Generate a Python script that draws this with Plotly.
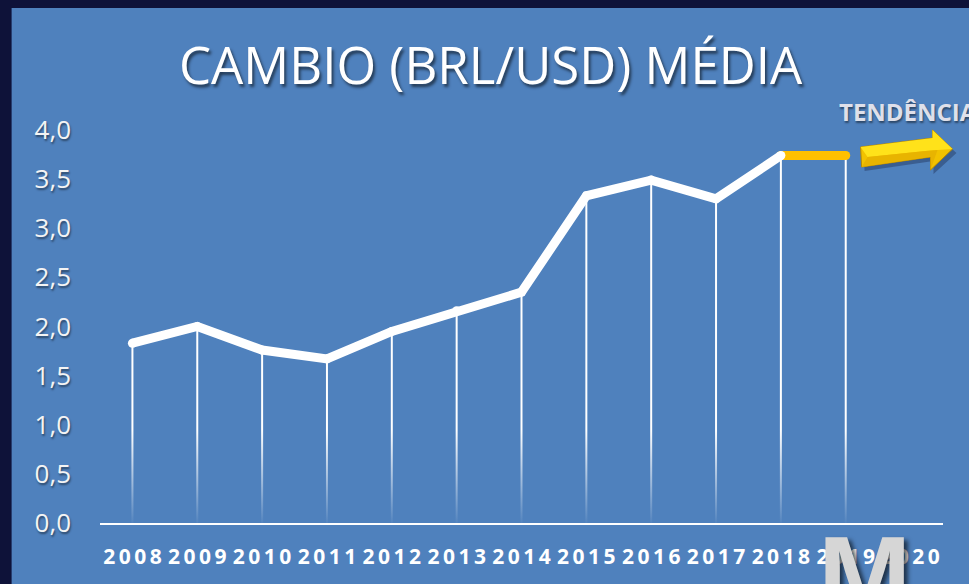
import plotly.graph_objects as go

# ---- data ----
years = ["2008", "2009", "2010", "2011", "2012", "2013", "2014",
         "2015", "2016", "2017", "2018", "2019", "2020"]
cambio = [1.83, 2.00, 1.76, 1.67, 1.95, 2.16, 2.35, 3.33, 3.49, 3.30, 3.74]
tendencia = [3.74, 3.74]          # 2018 -> 2019
y_ticks = [0.0, 0.5, 1.0, 1.5, 2.0, 2.5, 3.0, 3.5, 4.0]
y_tick_labels = ["0,0", "0,5", "1,0", "1,5", "2,0", "2,5", "3,0", "3,5", "4,0"]
title_text = "CAMBIO (BRL/USD) MÉDIA"
trend_label = "TENDÊNCIA"

W, H = 969, 584
ML, MR, MT, MB = 99.5, 25.5, 130, 61
PW, PH = W - ML - MR, H - MT - MB

def pp(x, y):
    return (x - ML) / PW, (H - MB - y) / PH

def path(pts):
    s = ""
    for i, (x, y) in enumerate(pts):
        a, b = pp(x, y)
        s += ("M" if i == 0 else "L") + f"{a:.5f},{b:.5f} "
    return s + "Z"

BLUE = "#4f81bd"
NAVY = "#0e1239"

idx = list(range(len(years)))
all_vals = cambio + tendencia[1:]
all_idx = idx[:len(all_vals)]

fig = go.Figure()

# drop lines
fig.add_trace(go.Scatter(
    x=all_idx, y=all_vals, mode="markers",
    marker=dict(size=1, color="rgba(0,0,0,0)"),
    error_y=dict(type="data", symmetric=False, array=[0] * len(all_vals),
                 arrayminus=all_vals, width=0, thickness=2, color="white"),
    hoverinfo="skip", showlegend=False))

# fade overlay at the bottom of drop lines
fig.add_trace(go.Scatter(
    x=[-0.5, len(years) - 0.5], y=[0.95, 0.95], mode="lines",
    line=dict(width=0), fill="tozeroy",
    fillgradient=dict(type="vertical", start=0, stop=0.95,
                      colorscale=[[0, "rgba(79,129,189,0.97)"],
                                  [1, "rgba(79,129,189,0)"]]),
    hoverinfo="skip", showlegend=False))

# trend line (yellow)
fig.add_trace(go.Scatter(
    x=[len(cambio) - 1, len(cambio)], y=tendencia, mode="lines+markers",
    line=dict(color="#ffc000", width=9),
    marker=dict(size=9, color="#ffc000"),
    hoverinfo="skip", showlegend=False))

# main line (white)
fig.add_trace(go.Scatter(
    x=idx[:len(cambio)], y=cambio, mode="lines+markers",
    line=dict(color="white", width=9),
    marker=dict(size=9, color="white"),
    hoverinfo="skip", showlegend=False))

shapes = []
# blue panel
x0, y0 = pp(11, 8)
x1, y1 = pp(W + 5, H + 5)
shapes.append(dict(type="rect", xref="paper", yref="paper",
                   x0=x0, y0=y1, x1=x1, y1=y0,
                   fillcolor=BLUE, line=dict(width=0), layer="below"))

# arrow (TENDÊNCIA)
arrow_shadow = [(864, 151), (936, 142), (936, 134), (957, 153), (934, 174), (934, 161), (865, 171)]
arrow = [(861, 147), (933, 138), (933, 130), (953, 149), (931, 170), (931, 157), (862, 167)]
arrow_top = [(861, 147), (933, 138), (933, 130), (953, 149), (938, 150), (926, 151), (868, 157)]
arrow_low = [(868, 157), (926, 151), (938, 150), (931, 170), (931, 157), (862, 167)]
shapes.append(dict(type="path", xref="paper", yref="paper", path=path(arrow_shadow),
                   fillcolor="rgba(20,30,60,0.35)", line=dict(width=0), layer="above"))
shapes.append(dict(type="path", xref="paper", yref="paper", path=path(arrow),
                   fillcolor="#f2c200", line=dict(color="#b88a00", width=1), layer="above"))
shapes.append(dict(type="path", xref="paper", yref="paper", path=path(arrow_top),
                   fillcolor="#ffe21a", line=dict(width=0), layer="above"))
shapes.append(dict(type="path", xref="paper", yref="paper", path=path(arrow_low),
                   fillcolor="#e8b400", line=dict(width=0), layer="above"))

annotations = []
tx, ty = pp(491, 64)
annotations.append(dict(text=title_text, xref="paper", yref="paper", x=tx, y=ty,
                        xanchor="center", yanchor="middle", showarrow=False,
                        font=dict(family="Open Sans", size=51, color="#ffffff", weight=400,
                                  shadow="2px 3px 3px rgba(0,0,0,0.55)")))
ax_, ay_ = pp(837, 112)
annotations.append(dict(text=trend_label, xref="paper", yref="paper", x=ax_, y=ay_,
                        xanchor="left", yanchor="middle", showarrow=False,
                        font=dict(family="Open Sans", size=24, color="#dfe0ea", weight="bold",
                                  shadow="1px 2px 2px rgba(0,0,0,0.45)")))
mx, my = pp(865, 511)
annotations.append(dict(text="M", xref="paper", yref="paper", x=mx, y=my,
                        xanchor="center", yanchor="top", showarrow=False,
                        font=dict(family="Liberation Sans", size=112, color="#d6d6d6",
                                  weight="bold", shadow="4px 3px 4px rgba(0,0,0,0.6)")))

thin = "\u2009"
fig.update_layout(
    width=W, height=H,
    margin=dict(l=ML, r=MR, t=MT, b=MB, pad=0),
    paper_bgcolor=NAVY, plot_bgcolor="rgba(0,0,0,0)",
    shapes=shapes, annotations=annotations,
    xaxis=dict(range=[-0.5, len(years) - 0.5], tickvals=idx,
               ticktext=[thin.join(list(y)) for y in years],
               showgrid=False, zeroline=False, showline=True, linecolor="white",
               linewidth=2, ticks="", ticklabelstandoff=14,
               tickfont=dict(family="Open Sans", size=21, color="white", weight="bold"),
               fixedrange=True),
    yaxis=dict(range=[0, 4.0], tickvals=y_ticks, ticktext=y_tick_labels,
               showgrid=False, zeroline=False, showline=False, ticks="",
               ticklabelstandoff=28,
               tickfont=dict(family="Open Sans", size=26, color="#f4f4f4",
                             shadow="1px 2px 2px rgba(0,0,0,0.45)"),
               fixedrange=True),
    showlegend=False,
)

fig.write_html("out.html", config={"displayModeBar": False},
               post_script="document.body.style.margin='0';"
                           "document.body.style.overflow='hidden';"
                           "document.body.style.background='#0e1239';")
